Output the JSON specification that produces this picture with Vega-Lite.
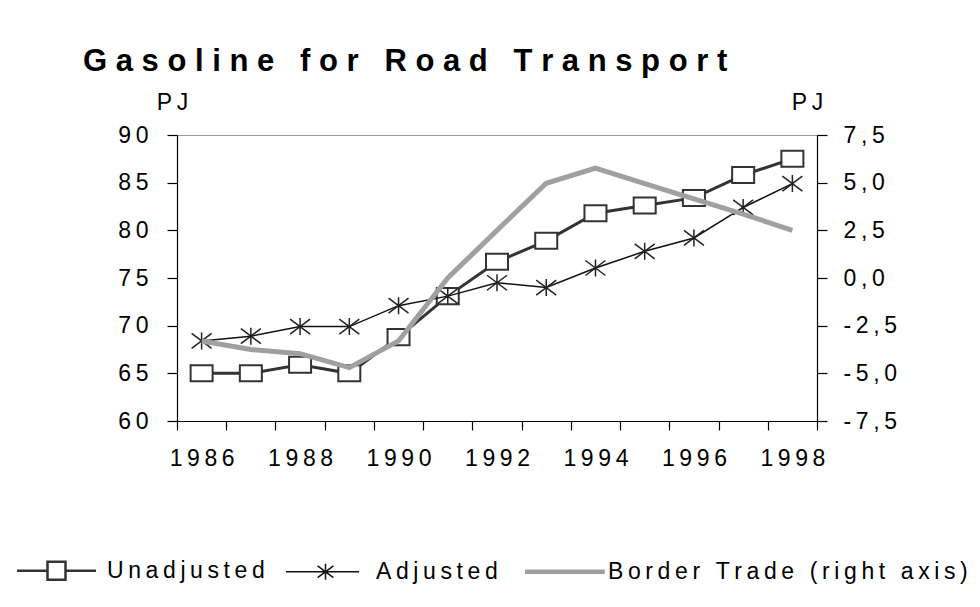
{
  "$schema": "https://vega.github.io/schema/vega-lite/v6.json",
  "width": 640,
  "height": 286,
  "autosize": {"type": "none"},
  "padding": {"left": 177, "top": 135, "right": 163, "bottom": 186},
  "background": "white",
  "title": {
    "text": "G a s o l i n e\u00a0\u00a0\u00a0f o r\u00a0\u00a0\u00a0R o a d\u00a0\u00a0\u00a0T r a n s p o r t",
    "anchor": "start",
    "frame": "group",
    "dx": -94,
    "dy": 31,
    "offset": 20,
    "fontSize": 31,
    "font": "Liberation Sans",
    "fontWeight": "bold",
    "color": "#000000",
    "baseline": "alphabetic"
  },
  "data": {
    "values": [
      {"year": 1986, "series": "Unadjusted", "value": 65.0},
      {"year": 1987, "series": "Unadjusted", "value": 65.0},
      {"year": 1988, "series": "Unadjusted", "value": 65.9},
      {"year": 1989, "series": "Unadjusted", "value": 65.0},
      {"year": 1990, "series": "Unadjusted", "value": 68.8},
      {"year": 1991, "series": "Unadjusted", "value": 73.1},
      {"year": 1992, "series": "Unadjusted", "value": 76.7},
      {"year": 1993, "series": "Unadjusted", "value": 78.9},
      {"year": 1994, "series": "Unadjusted", "value": 81.8},
      {"year": 1995, "series": "Unadjusted", "value": 82.6},
      {"year": 1996, "series": "Unadjusted", "value": 83.4},
      {"year": 1997, "series": "Unadjusted", "value": 85.8},
      {"year": 1998, "series": "Unadjusted", "value": 87.5},
      {"year": 1986, "series": "Adjusted", "value": 68.4},
      {"year": 1987, "series": "Adjusted", "value": 68.9},
      {"year": 1988, "series": "Adjusted", "value": 69.9},
      {"year": 1989, "series": "Adjusted", "value": 69.9},
      {"year": 1990, "series": "Adjusted", "value": 72.1},
      {"year": 1991, "series": "Adjusted", "value": 73.1},
      {"year": 1992, "series": "Adjusted", "value": 74.5},
      {"year": 1993, "series": "Adjusted", "value": 74.0},
      {"year": 1994, "series": "Adjusted", "value": 76.05},
      {"year": 1995, "series": "Adjusted", "value": 77.8},
      {"year": 1996, "series": "Adjusted", "value": 79.2},
      {"year": 1997, "series": "Adjusted", "value": 82.4},
      {"year": 1998, "series": "Adjusted", "value": 84.9},
      {"year": 1986, "series": "Border Trade (right axis)", "value": -3.3},
      {"year": 1987, "series": "Border Trade (right axis)", "value": -3.75},
      {"year": 1988, "series": "Border Trade (right axis)", "value": -3.97},
      {"year": 1989, "series": "Border Trade (right axis)", "value": -4.7},
      {"year": 1990, "series": "Border Trade (right axis)", "value": -3.3},
      {"year": 1991, "series": "Border Trade (right axis)", "value": 0.0},
      {"year": 1992, "series": "Border Trade (right axis)", "value": 2.5},
      {"year": 1993, "series": "Border Trade (right axis)", "value": 4.97},
      {"year": 1994, "series": "Border Trade (right axis)", "value": 5.76},
      {"year": 1995, "series": "Border Trade (right axis)", "value": 4.95},
      {"year": 1996, "series": "Border Trade (right axis)", "value": 4.15},
      {"year": 1997, "series": "Border Trade (right axis)", "value": 3.35},
      {"year": 1998, "series": "Border Trade (right axis)", "value": 2.5}
    ]
  },
  "layer": [
    {
      "layer": [
        {
          "transform": [{"filter": "datum.series === 'Unadjusted'"}],
          "mark": {"type": "line", "strokeWidth": 3},
          "encoding": {
            "x": {"field": "year", "type": "ordinal", "scale": {"type": "band", "paddingInner": 0, "paddingOuter": 0},
              "axis": {"title": null, "tickBand": "extent", "labelAngle": 0, "labelExpr": "datum.value % 2 === 0 ? join(split(datum.label, ''), '\u2009') : ''", "labelPadding": 17, "tickSize": 9, "labelOverlap": false, "labelFlush": false}},
            "y": {"field": "value", "type": "quantitative", "scale": {"domain": [60, 90], "nice": false, "zero": false},
              "axis": {"values": [60, 65, 70, 75, 80, 85, 90], "grid": false, "tickSize": 10, "labelPadding": 19, "labelExpr": "join(split(datum.label, ''), '\u2009')", "title": "P\u2009J", "titleAngle": 0, "titleX": -5, "titleY": -26, "titleAlign": "center", "titleBaseline": "alphabetic"}},
            "color": {"field": "series", "type": "nominal",
              "scale": {"domain": ["Unadjusted", "Adjusted", "Border Trade (right axis)"], "range": ["#333333", "#111111", "#a0a0a0"]},
              "legend": {
                "orient": "none", "legendX": -132, "legendY": 424, "direction": "horizontal", "title": null,
                "symbolSize": 6241, "symbolStrokeWidth": 2, "labelFontSize": 23, "labelFont": "Liberation Sans", "labelColor": "#000000",
                "labelOffset": 39, "columnPadding": 18, "labelLimit": 1000, "padding": 0,
                "labelExpr": "join(split(datum.label, ''), '\u2009')",
                "encode": {
                  "symbols": {
                    "update": {
                      "shape": {"signal": "datum.value === 'Unadjusted' ? 'M-1,0H-0.228M0.228,0H1M-0.228,-0.228H0.228V0.228H-0.228Z' : datum.value === 'Adjusted' ? 'M-1,0H0.85M-0.2,-0.15L0.2,0.15M-0.2,0.15L0.2,-0.15M0,-0.2V0.2' : 'M-1,0H1.02'"},
                      "strokeWidth": {"signal": "datum.value === 'Unadjusted' ? 2.5 : datum.value === 'Adjusted' ? 1.5 : 4.5"},
                      "fill": {"signal": "datum.value === 'Unadjusted' ? '#ffffff' : 'transparent'"},
                      "stroke": {"signal": "datum.value === 'Border Trade (right axis)' ? '#a0a0a0' : '#222222'"},
                      "opacity": {"value": 1}
                    }
                  },
                  "labels": {
                    "update": {
                      "dx": {"signal": "datum.value === 'Border Trade (right axis)' ? -7 : 0"}
                    }
                  }
                }
              }
            }
          }
        },
        {
          "transform": [{"filter": "datum.series === 'Unadjusted'"}],
          "mark": {"type": "point", "shape": "M-1,-0.73H1V0.73H-1Z", "size": 484, "filled": true, "fill": "#ffffff", "stroke": "#333333", "strokeWidth": 2, "opacity": 1},
          "encoding": {
            "x": {"field": "year", "type": "ordinal"},
            "y": {"field": "value", "type": "quantitative"}
          }
        },
        {
          "transform": [{"filter": "datum.series === 'Adjusted'"}],
          "mark": {"type": "line", "strokeWidth": 1.5},
          "encoding": {
            "x": {"field": "year", "type": "ordinal"},
            "y": {"field": "value", "type": "quantitative"},
            "color": {"field": "series", "type": "nominal"}
          }
        },
        {
          "transform": [{"filter": "datum.series === 'Adjusted'"}],
          "mark": {"type": "point", "shape": "M-1,-0.75L1,0.75M-1,0.75L1,-0.75M0,-0.85V0.85", "size": 400, "filled": false, "stroke": "#222222", "strokeWidth": 1.5, "opacity": 1},
          "encoding": {
            "x": {"field": "year", "type": "ordinal"},
            "y": {"field": "value", "type": "quantitative"}
          }
        }
      ]
    },
    {
      "transform": [{"filter": "datum.series === 'Border Trade (right axis)'"}],
      "mark": {"type": "line", "strokeWidth": 5},
      "encoding": {
        "x": {"field": "year", "type": "ordinal"},
        "y": {"field": "value", "type": "quantitative", "scale": {"domain": [-7.5, 7.5], "nice": false, "zero": false},
          "axis": {"orient": "right", "values": [-7.5, -5, -2.5, 0, 2.5, 5, 7.5], "format": ".1f", "grid": false, "tickSize": 10, "labelPadding": 16,
            "labelExpr": "join(split(replace(replace(datum.label, '.', ','), '\u2212', '-'), ''), '\u2009')",
            "title": "P\u2009J", "titleAngle": 0, "titleX": -10, "titleY": -26, "titleAlign": "center", "titleBaseline": "alphabetic"}},
        "color": {"field": "series", "type": "nominal"}
      }
    }
  ],
  "resolve": {"scale": {"y": "independent"}},
  "config": {
    "font": "Liberation Sans",
    "view": {"stroke": "#999999", "strokeWidth": 1},
    "axis": {
      "labelFont": "Liberation Sans",
      "labelFontSize": 23,
      "labelColor": "#000000",
      "titleFont": "Liberation Sans",
      "titleFontSize": 23,
      "titleFontWeight": "normal",
      "titleColor": "#000000",
      "domainColor": "#000000",
      "domainWidth": 1.2,
      "tickColor": "#000000",
      "tickWidth": 1.2
    }
  }
}
